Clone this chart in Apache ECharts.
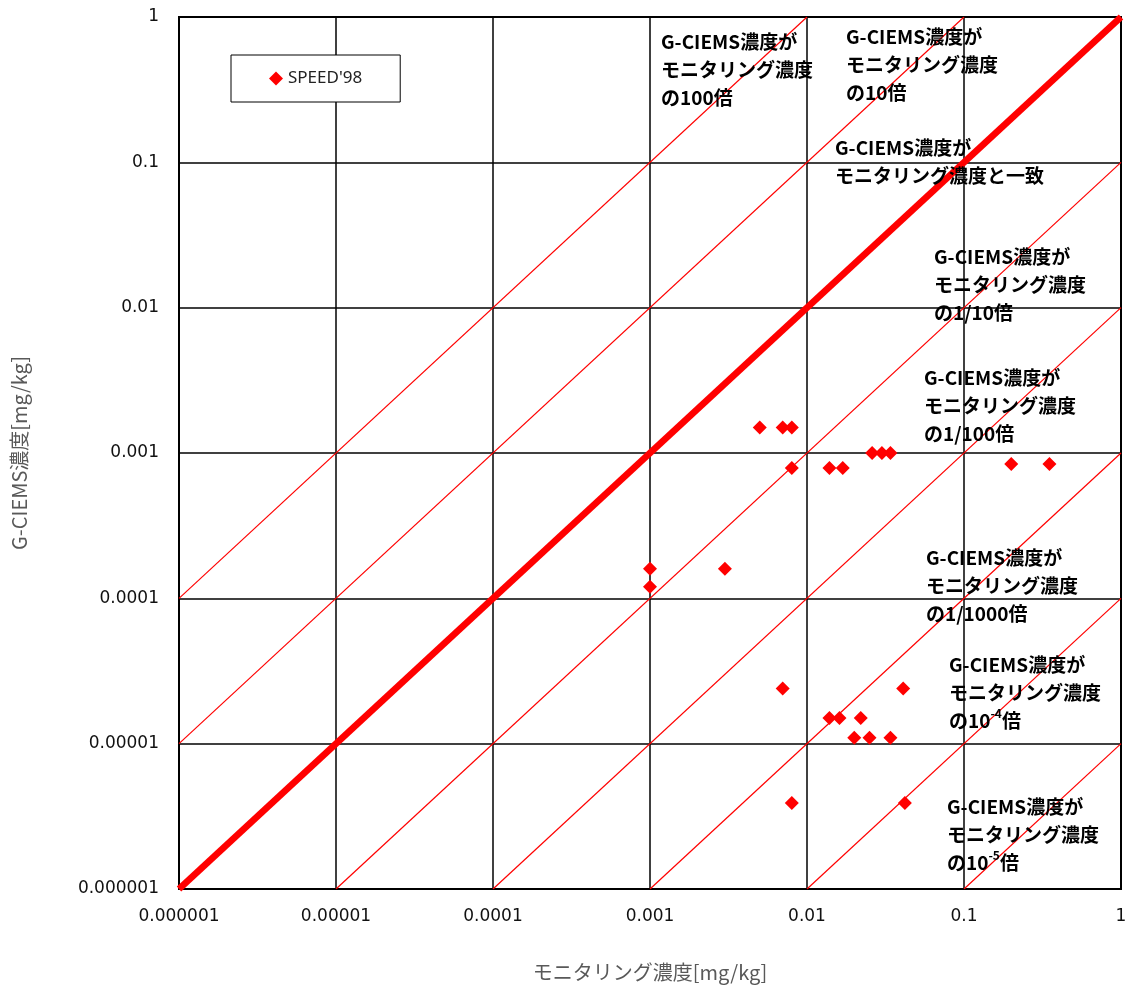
<!DOCTYPE html>
<html><head><meta charset="utf-8">
<script src="https://cdn.jsdelivr.net/npm/echarts@6/dist/echarts.min.js"></script>
<style>html,body{margin:0;padding:0;background:#fff}#c{width:1130px;height:992px}</style>
</head><body><div id="c"></div>
<script>
const seriesName = "SPEED'98";
const monitoring = [0.005, 0.007, 0.008, 0.008, 0.0139, 0.0169, 0.026, 0.030, 0.034, 0.20, 0.35,
  0.001, 0.001, 0.003, 0.007, 0.041, 0.0139, 0.0161, 0.022, 0.020, 0.025, 0.034, 0.008, 0.042];
const gciems = [0.0015, 0.0015, 0.0015, 0.00079, 0.00079, 0.00079, 0.001, 0.001, 0.001, 0.00084, 0.00084,
  0.00016, 0.00012, 0.00016, 0.000024, 0.000024, 0.000015, 0.000015, 0.000015, 0.000011, 0.000011, 0.000011, 0.0000039, 0.0000039];
const ratios = [100, 10, 1, 0.1, 0.01, 0.001, 0.0001, 0.00001];
const tickLabels = ['0.000001', '0.00001', '0.0001', '0.001', '0.01', '0.1', '1'];
const xTitle = 'モニタリング濃度[mg/kg]';
const yTitle = 'G-CIEMS濃度[mg/kg]';
const annotations = [
  'G-CIEMS濃度が\nモニタリング濃度\nの100倍',
  'G-CIEMS濃度が\nモニタリング濃度\nの10倍',
  'G-CIEMS濃度が\nモニタリング濃度と一致',
  'G-CIEMS濃度が\nモニタリング濃度\nの1/10倍',
  'G-CIEMS濃度が\nモニタリング濃度\nの1/100倍',
  'G-CIEMS濃度が\nモニタリング濃度\nの1/1000倍',
  'G-CIEMS濃度が\nモニタリング濃度\nの10{sup|-4}倍',
  'G-CIEMS濃度が\nモニタリング濃度\nの10{sup|-5}倍'
];
// layout (pixels) for annotations
const annPos = [[661,28],[846,23],[835,134],[934,243],[924,364],[926,544],[949,651],[947,793]];

const XMIN = 1e-6, XMAX = 1;
const lineSeries = ratios.map(function (k) {
  const x0 = Math.max(XMIN, XMIN / k), x1 = Math.min(XMAX, XMAX / k);
  return {
    type: 'line', silent: true, showSymbol: false, symbol: 'none', z: 2,
    lineStyle: { color: '#FF0000', width: k === 1 ? 6.5 : 1.2 },
    data: [[x0, k * x0], [x1, k * x1]]
  };
});

const labelFmt = function (v) { return tickLabels[Math.round(Math.log10(v)) + 6]; };
const axisCommon = {
  type: 'log', logBase: 10, min: XMIN, max: XMAX,
  axisLine: { show: true, onZero: false, lineStyle: { color: '#000', width: 2 } },
  axisTick: { show: false },
  splitLine: { show: true, lineStyle: { color: '#000', width: 1.5 } },
  nameLocation: 'middle',
  nameTextStyle: { fontSize: 20, color: '#595959', fontFamily: 'Noto Sans CJK JP' }
};

const chart = echarts.init(document.getElementById('c'), null, { renderer: 'canvas' });
chart.setOption({
  animation: false,
  backgroundColor: '#fff',
  grid: { left: 179, right: 9, top: 17, bottom: 103, show: true, borderColor: '#000', borderWidth: 2, backgroundColor: 'transparent' },
  xAxis: Object.assign({}, axisCommon, {
    name: xTitle, nameGap: 73,
    axisLabel: { formatter: labelFmt, fontSize: 17, fontFamily: 'DejaVu Sans', color: '#111', margin: 19, showMinLabel: true, showMaxLabel: true }
  }),
  yAxis: Object.assign({}, axisCommon, {
    name: yTitle, nameGap: 150,
    axisLabel: { formatter: labelFmt, fontSize: 17, fontFamily: 'DejaVu Sans', color: '#111', margin: 20, showMinLabel: true, showMaxLabel: true }
  }),
  legend: {
    left: 231, top: 55, padding: [15, 38], borderColor: '#000', borderWidth: 1, backgroundColor: '#fff',
    itemWidth: 14, itemHeight: 14, icon: 'diamond',
    textStyle: { fontSize: 17, fontFamily: 'Noto Sans', color: '#222' },
    data: [seriesName]
  },
  graphic: annotations.map(function (t, i) {
    return {
      type: 'text', x: annPos[i][0], y: annPos[i][1], z: 100,
      style: {
        text: t, fontSize: 19, fontWeight: 'bold', fontFamily: 'Noto Sans CJK JP', fill: '#000', lineHeight: 28,
        rich: { sup: { fontSize: 12, fontWeight: 'bold', fontFamily: 'Noto Sans CJK JP', lineHeight: 16, verticalAlign: 'top', fill: '#000' } }
      }
    };
  }),
  series: lineSeries.concat([{
    name: seriesName, type: 'scatter', symbol: 'diamond', symbolSize: 14, z: 5,
    itemStyle: { color: '#FF0000', opacity: 1 },
    data: monitoring.map(function (x, i) { return [x, gciems[i]]; })
  }])
});
</script></body></html>
